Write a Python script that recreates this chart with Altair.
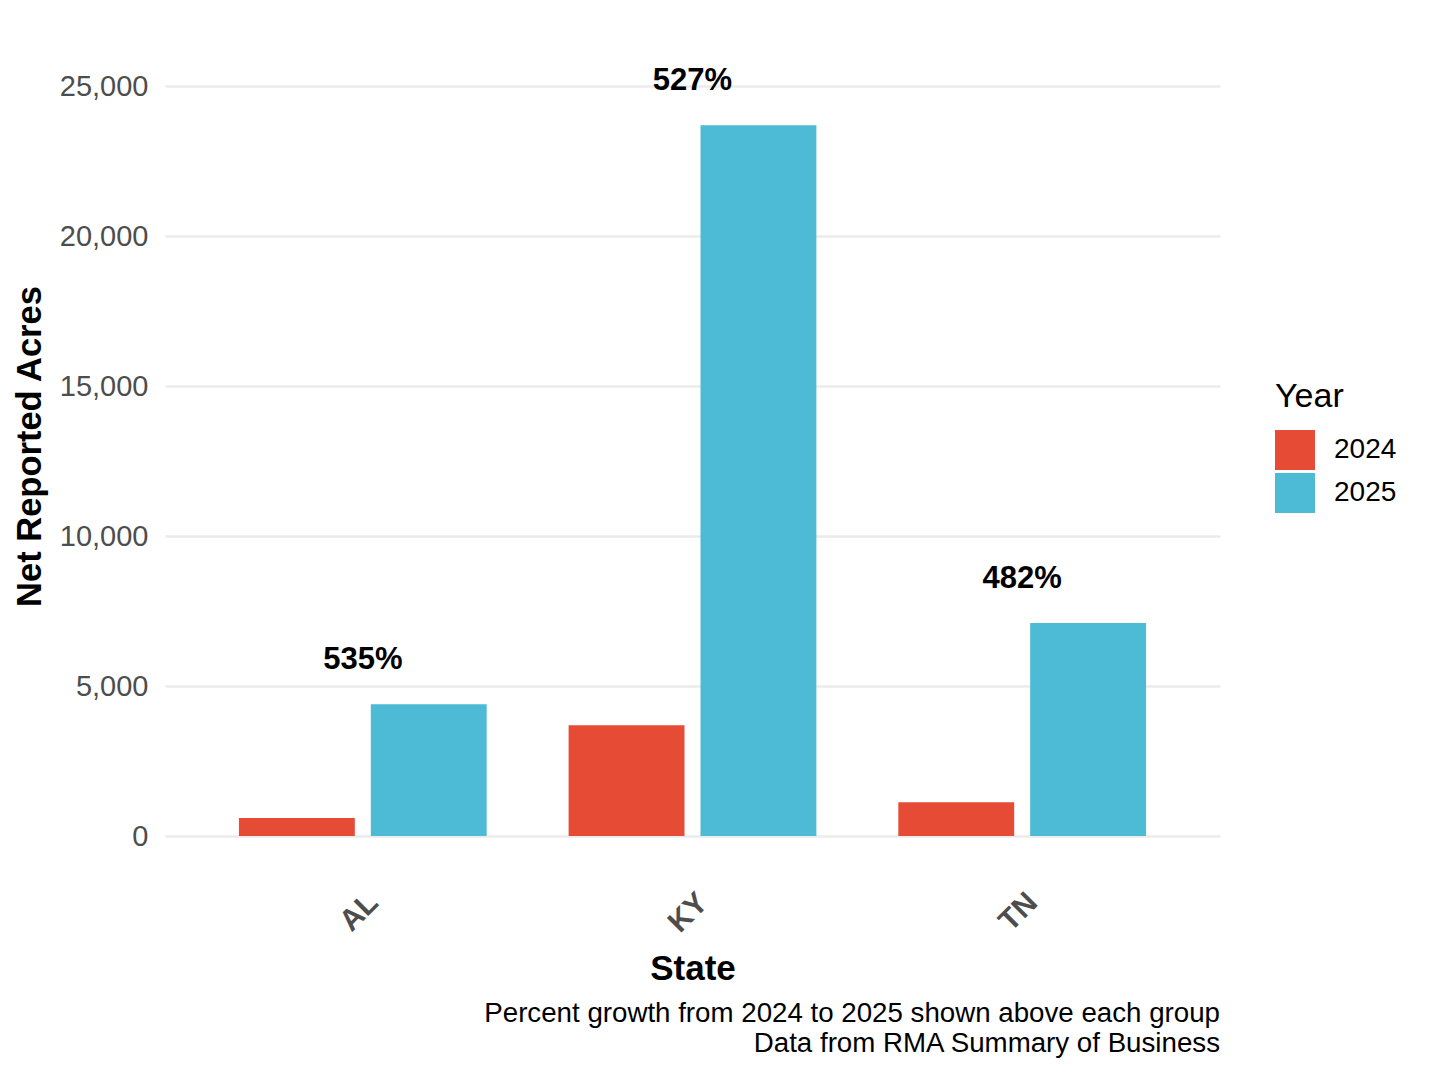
import altair as alt
import pandas as pd

states = ["AL", "KY", "TN"]
years = ["2024", "2025"]
acres_2024 = [600, 3690, 1125]
acres_2025 = [4390, 23690, 7100]
pct_labels = ["535%", "527%", "482%"]
colors = ["#E64B35", "#4DBBD5"]
y_ticks = [0, 5000, 10000, 15000, 20000, 25000]

rows = []
for s, a24, a25, lab in zip(states, acres_2024, acres_2025, pct_labels):
    rows.append({"State": s, "Year": "2024", "Acres": a24, "Label": lab})
    rows.append({"State": s, "Year": "2025", "Acres": a25, "Label": lab})
df = pd.DataFrame(rows)

FONT = "Liberation Sans"

x_enc = alt.X(
    "State:N",
    title="State",
    sort=states,
    scale=alt.Scale(paddingInner=0, paddingOuter=0.1),
    axis=alt.Axis(
        labelAngle=-45,
        labelFontSize=30,
        labelFontWeight="bold",
        labelColor="#4d4d4d",
        labelPadding=12,
        ticks=False,
        domain=False,
        grid=False,
        titleFontSize=35,
        titleFontWeight="bold",
        titleColor="black",
        titleY=104,
        titleBaseline="alphabetic",
    ),
)
y_scale = alt.Scale(domain=[-1300, 27300], nice=False, zero=False)

bars = alt.Chart(df).mark_bar(strokeWidth=0).encode(
    x=x_enc,
    xOffset=alt.XOffset(
        "Year:N",
        sort=years,
        scale=alt.Scale(paddingInner=0.1212, paddingOuter=0.3106),
    ),
    y=alt.Y(
        "Acres:Q",
        title="Net Reported Acres",
        scale=y_scale,
        axis=alt.Axis(
            values=y_ticks,
            format=",d",
            labelFontSize=29,
            labelColor="#4d4d4d",
            labelPadding=17,
            ticks=False,
            domain=False,
            grid=True,
            gridColor="#ebebeb",
            gridWidth=2.5,
            titleFontSize=34.5,
            titleFontWeight="bold",
            titleColor="black",
            titleX=-135,
            titleY=429,
            titleAngle=-90,
            titleAlign="center",
            titleBaseline="middle",
        ),
    ),
    color=alt.Color(
        "Year:N",
        sort=years,
        scale=alt.Scale(domain=years, range=colors),
        legend=alt.Legend(
            title="Year",
            orient="none",
            legendX=1110,
            legendY=363,
            symbolType="square",
            symbolSize=1600,
            symbolStrokeWidth=0,
            symbolOpacity=1,
            rowPadding=3,
            labelFontSize=28,
            labelOffset=19,
            titleFontSize=34,
            titleFontWeight="normal",
            titlePadding=16,
            titleColor="black",
            labelColor="black",
        ),
    ),
)

text = alt.Chart(df).transform_aggregate(
    top="max(Acres)", groupby=["State", "Label"]
).mark_text(
    fontSize=31, fontWeight="bold", color="black", baseline="middle", dy=-44
).encode(
    x=alt.X("State:N", sort=states),
    y=alt.Y("top:Q", scale=y_scale),
    text="Label:N",
)

chart = alt.layer(bars, text).properties(
    width=1055,
    height=858,
    autosize=alt.AutoSizeParams(type="none"),
    padding={"left": 157, "top": 9, "right": 200, "bottom": 190},
    title=alt.TitleParams(
        text=["Percent growth from 2024 to 2025 shown above each group",
              "Data from RMA Summary of Business"],
        orient="bottom",
        anchor="end",
        frame="group",
        fontSize=27.7,
        fontWeight="normal",
        color="black",
        lineHeight=30,
        offset=14,
        font=FONT,
    ),
).configure(font=FONT).configure_view(stroke=None)

chart.save("out.html", embed_options={"renderer": "svg", "actions": False})
